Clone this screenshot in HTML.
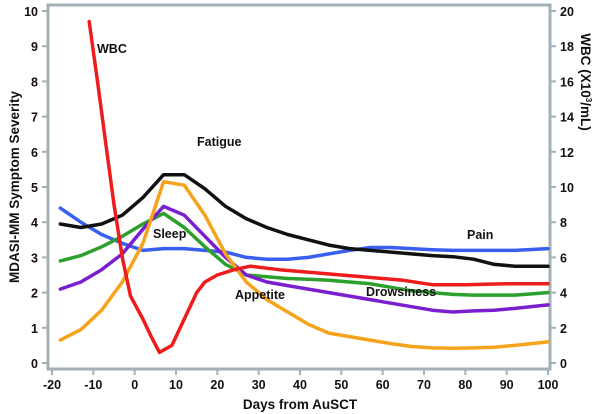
<!DOCTYPE html>
<html><head><meta charset="utf-8"><style>
body{margin:0;background:#fff;}
svg{display:block;font-family:"Liberation Sans",sans-serif;font-weight:bold;}
</style></head><body>
<svg id="chart" width="600" height="414">
<g id="axes"></g><g id="series"></g><g id="labels"></g>
</svg>
<script>
const days = [-18,-13,-8,-3,2,7,12,17,22,27,32,37,42,47,52,57,62,67,72,77,82,87,92,100];
const fatigue = [3.95,3.85,3.95,4.2,4.7,5.35,5.35,4.95,4.45,4.1,3.85,3.65,3.5,3.35,3.25,3.2,3.15,3.1,3.05,3.02,2.95,2.8,2.75,2.75];
const pain = [4.4,4.0,3.65,3.4,3.2,3.25,3.25,3.2,3.15,3.0,2.95,2.95,3.0,3.1,3.2,3.28,3.28,3.25,3.22,3.2,3.2,3.2,3.2,3.25];
const sleep = [2.9,3.05,3.3,3.6,3.95,4.25,3.85,3.3,2.8,2.5,2.45,2.4,2.38,2.35,2.3,2.25,2.15,2.05,2.0,1.95,1.93,1.93,1.93,2.0];
const drowsiness = [2.1,2.3,2.65,3.1,3.8,4.45,4.2,3.6,3.0,2.5,2.3,2.2,2.1,2.0,1.9,1.8,1.7,1.6,1.5,1.45,1.48,1.5,1.55,1.65];
const appetite = [0.65,0.95,1.5,2.3,3.4,5.15,5.05,4.2,3.1,2.3,1.8,1.45,1.1,0.85,0.75,0.65,0.55,0.47,0.43,0.42,0.43,0.45,0.5,0.6];
const wbcDays = [-11,-9,-7,-5,-3,-1,2,4,6,9,12,15,17,20,24,28,35,45,55,65,72,80,90,100];
const wbc = [19.4,16,12.5,9,6,3.8,2.5,1.5,0.6,1.0,2.5,4,4.6,5,5.3,5.5,5.3,5.1,4.9,4.7,4.45,4.45,4.5,4.5];
const xTicks = [-20,-10,0,10,20,30,40,50,60,70,80,90,100];
const yTicks = [0,1,2,3,4,5,6,7,8,9,10];
const y2Ticks = [0,2,4,6,8,10,12,14,16,18,20];

const NS='http://www.w3.org/2000/svg';
const X0=52,X1=548,Y0=363,Y1=11;
const xs=d=>X0+(d+20)/120*(X1-X0);
const ys=v=>Y0-v/10*(Y0-Y1);
const y2s=v=>Y0-v/20*(Y0-Y1);
function mk(tag,attrs,parent,text){const e=document.createElementNS(NS,tag);for(const k in attrs)e.setAttribute(k,attrs[k]);if(text!==undefined)e.textContent=text;parent.appendChild(e);return e;}
const axes=document.getElementById('axes'),ser=document.getElementById('series'),lab=document.getElementById('labels');
const ax='#a3b0b8';
let e;
e=mk('rect',{x:48,y:5,width:502,height:364,fill:'none',stroke:ax,'stroke-width':3},axes);


xTicks.forEach(t=>{const x=xs(t);
 mk('line',{x1:x,x2:x,y1:369,y2:375,stroke:ax,'stroke-width':2},axes);
 e=mk('text',{x:x,y:389,'text-anchor':'middle','font-size':12.5,fill:'#111'},axes,String(t));
 
 });
yTicks.forEach(t=>{const y=ys(t);
 mk('line',{x1:42,x2:48,y1:y,y2:y,stroke:ax,'stroke-width':2},axes);
 e=mk('text',{x:38,y:y+5,'text-anchor':'end','font-size':12.5,fill:'#111'},axes,String(t));
 
 });
y2Ticks.forEach(t=>{const y=y2s(t);
 mk('line',{x1:550,x2:556,y1:y,y2:y,stroke:ax,'stroke-width':2},axes);
 e=mk('text',{x:560,y:y+5,'text-anchor':'start','font-size':12.5,fill:'#111'},axes,String(t));
 
 });
e=mk('text',{x:300,y:409,'text-anchor':'middle','font-size':13.5,fill:'#111'},axes,'Days from AuSCT');


e=mk('text',{x:0,y:0,'text-anchor':'middle','font-size':13.5,fill:'#111',transform:'translate(19,187) rotate(-90)'},axes,'MDASI-MM Symptom Severity');


e=mk('text',{x:0,y:0,'text-anchor':'middle','font-size':13.5,fill:'#111',transform:'translate(581,82) rotate(90)'},axes,'');
e.innerHTML='WBC (X10<tspan font-size="8" dy="-5">3</tspan><tspan dy="5">/mL)</tspan>';



function line(xarr,varr,sc,color,name){
 const d=xarr.map((x,i)=>(i?'L':'M')+xs(x).toFixed(1)+','+sc(varr[i]).toFixed(1)).join('');
 const p=mk('path',{d:d,fill:'none',stroke:color,'stroke-width':3.5,'stroke-linejoin':'round','stroke-linecap':'round'},ser);
 
 
}
line(days,pain,ys,'#3a5ff0','pain-line');
line(days,fatigue,ys,'#111111','fatigue-line');
line(days,sleep,ys,'#2ca02c','sleep-line');
line(days,drowsiness,ys,'#7a1fd0','drowsiness-line');
line(days,appetite,ys,'#f7a21b','appetite-line');
line(wbcDays,wbc,y2s,'#ee1c1c','wbc-line');

[['WBC',97,53,'wbc-label'],['Fatigue',197,146,'fatigue-label'],['Sleep',153,238,'sleep-label'],['Pain',467,239,'pain-label'],['Appetite',235,299,'appetite-label'],['Drowsiness',366,296,'drowsiness-label']].forEach(a=>{
 const t=mk('text',{x:a[1],y:a[2],'font-size':12.5,fill:'#111'},lab,a[0]);
 
 
});
</script>
</body></html>
